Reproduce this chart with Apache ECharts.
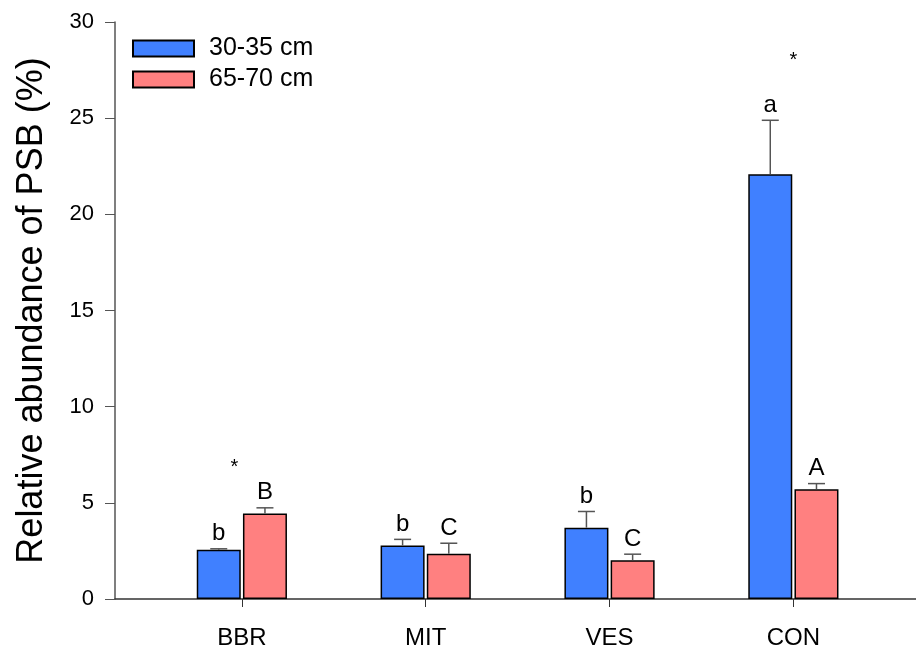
<!DOCTYPE html>
<html>
<head>
<meta charset="utf-8">
<script src="https://cdn.jsdelivr.net/npm/echarts@6/dist/echarts.min.js"></script>
<style>
  html, body { margin: 0; padding: 0; background: #fff; }
  #main { width: 916px; height: 650px; }
</style>
</head>
<body>
<div id="main"></div>
<script>
// data
var categories = ['BBR', 'MIT', 'VES', 'CON'];
var catPos = [1, 2, 3, 4];
var seriesNames = ['30-35 cm', '65-70 cm'];
var shallow = [2.56, 2.78, 3.71, 22.09];
var shallowSE = [0.05, 0.32, 0.84, 2.80];
var deep = [4.45, 2.35, 2.02, 5.71];
var deepSE = [0.29, 0.55, 0.31, 0.29];
var shallowLetters = ['b', 'b', 'b', 'a'];
var deepLetters = ['B', 'C', 'C', 'A'];
var starX = [0.96, 4.0];
var starY = [6.84, 28.0];

var FONT = '"Liberation Sans", Arial, Helvetica, sans-serif';
var blue = '#4080ff';
var red = '#ff8080';
var halfShift = 23.1; // px from category centre to bar centre

function pairs(vals) {
  return vals.map(function (v, i) { return [catPos[i], v]; });
}

function errSeries(vals, se, letters, sign) {
  return {
    type: 'custom',
    silent: true,
    z: 5,
    data: vals.map(function (v, i) { return [catPos[i], v, se[i]]; }),
    renderItem: function (params, api) {
      var i = params.dataIndex;
      var x = api.value(0), m = api.value(1), s = api.value(2);
      var base = api.coord([x, m]);
      var top = api.coord([x, m + s]);
      var cx = base[0] + sign * halfShift;
      var st = { stroke: '#555', lineWidth: 1.5 };
      return {
        type: 'group',
        children: [
          { type: 'line', shape: { x1: cx, y1: base[1], x2: cx, y2: top[1] }, style: st },
          { type: 'line', shape: { x1: cx - 8.5, y1: top[1], x2: cx + 8.5, y2: top[1] }, style: st },
          {
            type: 'text',
            style: {
              x: cx, y: top[1] - 3, text: letters[i],
              align: 'center', verticalAlign: 'bottom',
              font: '24px ' + FONT, fill: '#000'
            }
          }
        ]
      };
    }
  };
}

var chart = echarts.init(document.getElementById('main'));
chart.setOption({
  animation: false,
  backgroundColor: '#fff',
  textStyle: { fontFamily: FONT },
  grid: { left: 115, right: 0, top: 22, bottom: 47 },
  legend: {
    data: seriesNames,
    icon: 'rect',
    left: 127,
    top: 31,
    orient: 'vertical',
    itemWidth: 61,
    itemHeight: 16,
    itemGap: 6,
    textStyle: { fontSize: 25, lineHeight: 24, color: '#000', padding: [0, 0, 0, 10] }
  },
  xAxis: {
    type: 'value',
    min: 0.31,
    max: 4.667,
    splitLine: { show: false },
    axisLine: { show: true, onZero: false, lineStyle: { color: '#333', width: 1.5 } },
    axisTick: { show: true, length: 8, customValues: catPos, lineStyle: { color: '#333' } },
    axisLabel: {
      customValues: catPos,
      fontSize: 24,
      color: '#000',
      margin: 27,
      formatter: function (v) { return categories[Math.round(v) - 1]; }
    }
  },
  yAxis: {
    type: 'value',
    min: 0,
    max: 30,
    interval: 5,
    name: 'Relative abundance of PSB (%)',
    nameLocation: 'middle',
    nameGap: 65,
    nameTextStyle: { fontSize: 36, color: '#000' },
    splitLine: { show: false },
    axisLine: { show: true, lineStyle: { color: '#555', width: 1.5 } },
    axisTick: { show: true, length: 10, lineStyle: { color: '#555' } },
    axisLabel: { fontSize: 22, color: '#000', margin: 21 }
  },
  series: [
    {
      name: seriesNames[0],
      type: 'bar',
      data: pairs(shallow),
      barWidth: 44,
      barGap: '5%',
      itemStyle: { color: blue, borderColor: '#000', borderWidth: 1.5 }
    },
    {
      name: seriesNames[1],
      type: 'bar',
      data: pairs(deep),
      barWidth: 44,
      barGap: '5%',
      itemStyle: { color: red, borderColor: '#000', borderWidth: 1.5 }
    },
    errSeries(shallow, shallowSE, shallowLetters, -1),
    errSeries(deep, deepSE, deepLetters, 1),
    {
      type: 'custom',
      silent: true,
      data: starX.map(function (x, i) { return [x, starY[i]]; }),
      renderItem: function (params, api) {
        var p = api.coord([api.value(0), api.value(1)]);
        return {
          type: 'text',
          style: {
            x: p[0], y: p[1], text: '*',
            align: 'center', verticalAlign: 'middle',
            font: '20px ' + FONT, fill: '#000'
          }
        };
      }
    }
  ]
});
</script>
</body>
</html>
